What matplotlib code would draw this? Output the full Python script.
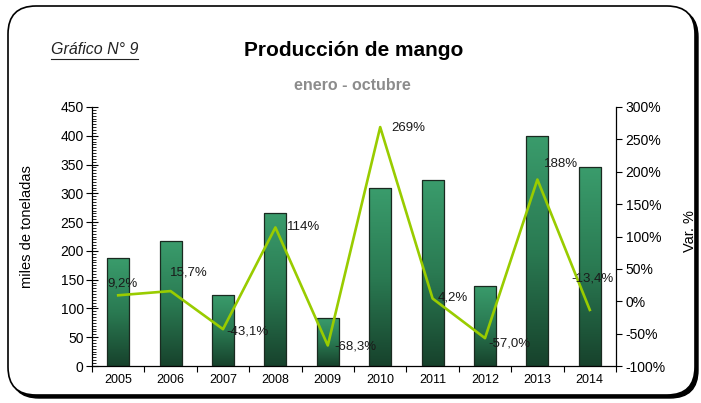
import matplotlib
matplotlib.use("Agg")
import matplotlib.pyplot as plt
import numpy as np
from matplotlib.patches import FancyBboxPatch
from matplotlib.colors import LinearSegmentedColormap
from matplotlib.ticker import MultipleLocator, FuncFormatter

plt.rcParams['font.family'] = ['Liberation Sans', 'DejaVu Sans']

years = ['2005', '2006', '2007', '2008', '2009', '2010', '2011', '2012', '2013', '2014']
production = [187, 217, 124, 265, 84, 309, 323, 139, 400, 345]
variation = [9.2, 15.7, -43.1, 114, -68.3, 269, 4.2, -57.0, 188, -13.4]
var_labels = ['9,2%', '15,7%', '-43,1%', '114%', '-68,3%', '269%', '4,2%', '-57,0%', '188%', '-13,4%']

# label offsets in pixels (style)
label_offsets = [(-11, 12), (-1, 19), (3, -2), (12, 0), (7, -1), (11, -1), (5, 1), (3, -5), (7, 16), (-18, 31)]

fig = plt.figure(figsize=(7.01, 4.03), dpi=100)
ax = fig.add_axes([92/701, 1-366/403, (616-92)/701, (366-107)/403])

x = np.arange(len(years))
bars = ax.bar(x, production, width=0.42, color='none', edgecolor='#1a2a20', linewidth=0.9, zorder=3)

cmap = LinearSegmentedColormap.from_list('g', ['#17422c', '#2a7a52', '#3a9c6c'])
grad = np.linspace(0, 1, 256).reshape(-1, 1)
for b in bars:
    x0, y0 = b.get_x(), b.get_y()
    w, h = b.get_width(), b.get_height()
    im = ax.imshow(grad, cmap=cmap, origin='lower', aspect='auto',
                   extent=[x0, x0+w, y0, y0+h], zorder=2)
    im.set_clip_path(b)
ax.set_xlim(-0.5, len(years)-0.5)
ax.set_ylim(0, 450)

ax.yaxis.set_major_locator(MultipleLocator(50))
ax.yaxis.set_minor_locator(MultipleLocator(5))
ax.tick_params(axis='y', which='major', direction='inout', length=8, width=0.8, labelsize=10, pad=2)
ax.tick_params(axis='y', which='minor', direction='in', length=3, width=0.6)
ax.set_xticks(x)
ax.set_xticklabels(years)
ax.set_xticks(np.arange(-0.5, len(years), 1), minor=True)
ax.tick_params(axis='x', which='major', length=0, labelsize=9, pad=6)
ax.tick_params(axis='x', which='minor', direction='out', length=4, width=0.8)
for s in ['top', 'right']:
    ax.spines[s].set_visible(False)
ax.spines['left'].set_linewidth(0.9)
ax.spines['bottom'].set_linewidth(0.9)
ax.set_ylabel('miles de toneladas', fontsize=10.5)
ax.yaxis.set_label_coords(-0.110, 0.54)

ax2 = ax.twinx()
ax2.set_ylim(-100, 300)
ax2.yaxis.set_major_locator(MultipleLocator(50))
ax2.yaxis.set_major_formatter(FuncFormatter(lambda v, p: f'{int(v)}%'))
ax2.tick_params(axis='y', direction='out', length=4, width=0.8, labelsize=10, pad=3)
for s in ['top', 'left', 'bottom']:
    ax2.spines[s].set_visible(False)
ax2.spines['right'].set_linewidth(0.9)
ax2.set_ylabel('Var. %', fontsize=10.5)
ax2.yaxis.set_label_coords(1.127, 0.52)
ax2.plot(x, variation, color='#99cc00', linewidth=1.9, zorder=4)
for xi, v, lab, (dx, dy) in zip(x, variation, var_labels, label_offsets):
    ax2.annotate(lab, (xi, v), xytext=(dx, dy), textcoords='offset pixels',
                 ha='left', va='center', fontsize=9.5, color='#1a1a1a', zorder=5)

fig.text(354/701, 1-50/403, 'Producción de mango', ha='center', va='center',
         fontsize=15, fontweight='bold')
t = fig.text(51/701, 1-50/403, 'Gráfico N° 9', ha='left', va='center',
             fontsize=11.5, fontstyle='italic', color='#222222')
fig.canvas.draw()
bb = t.get_window_extent()
fig.add_artist(plt.Line2D([bb.x0/701, bb.x1/701], [(bb.y0-1)/403, (bb.y0-1)/403],
                          color='#222222', linewidth=0.8, transform=fig.transFigure))
fig.text(352/701, 1-85/403, 'enero - octubre', ha='center', va='center',
         fontsize=11.5, fontweight='bold', color='#8c8c8c')

shadow = FancyBboxPatch((11/701, 5/403), 687/701, 389/403,
                        boxstyle='round,pad=0,rounding_size=0.04',
                        transform=fig.transFigure, facecolor='black', edgecolor='black',
                        linewidth=1, zorder=-2, mutation_aspect=701/403)
frame = FancyBboxPatch((8/701, 8/403), 687/701, 389/403,
                       boxstyle='round,pad=0,rounding_size=0.04',
                       transform=fig.transFigure, facecolor='white', edgecolor='black',
                       linewidth=1.2, zorder=-1, mutation_aspect=701/403)
fig.add_artist(shadow)
fig.add_artist(frame)

fig.savefig('out.png', dpi=100)
